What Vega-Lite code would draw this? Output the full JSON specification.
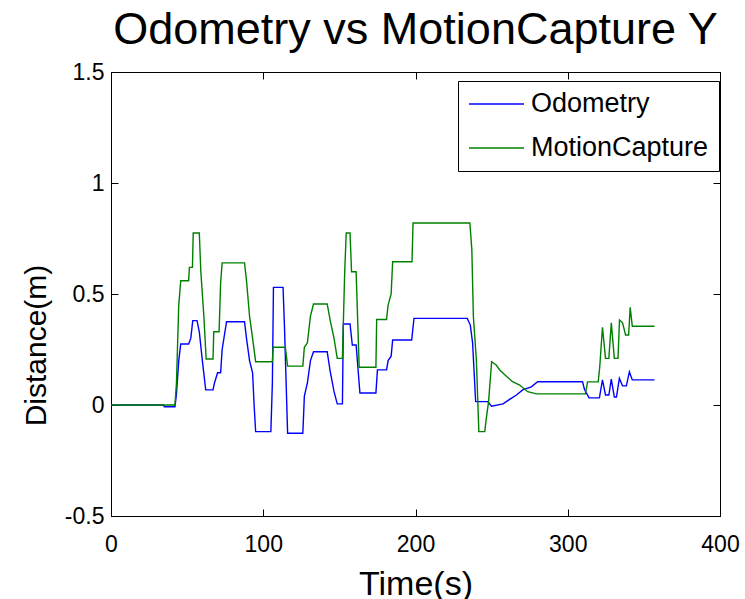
{
  "$schema": "https://vega.github.io/schema/vega-lite/v6.json",
  "width": 609,
  "height": 444,
  "autosize": {"type": "none"},
  "padding": {"left": 111, "top": 72, "right": 25, "bottom": 83},
  "background": "white",
  "title": {
    "text": "Odometry vs MotionCapture Y",
    "font": "Liberation Sans",
    "fontSize": 45,
    "fontWeight": "normal",
    "color": "black",
    "anchor": "middle",
    "frame": "group",
    "baseline": "alphabetic",
    "offset": 14,
    "dy": 42
  },
  "config": {
    "view": {"stroke": "black", "strokeWidth": 1},
    "axis": {
      "domainColor": "black",
      "domainWidth": 1,
      "tickColor": "black",
      "tickWidth": 1,
      "grid": false,
      "labelFont": "Liberation Sans",
      "labelColor": "black",
      "titleFont": "Liberation Sans",
      "titleColor": "black",
      "titleFontWeight": "normal"
    }
  },
  "data": {
    "values": [
      {"time": 0, "distance": 0, "series": "Odometry"},
      {"time": 34.5, "distance": 0, "series": "Odometry"},
      {"time": 35, "distance": -0.008, "series": "Odometry"},
      {"time": 42, "distance": -0.008, "series": "Odometry"},
      {"time": 43, "distance": 0.05, "series": "Odometry"},
      {"time": 44.5, "distance": 0.2, "series": "Odometry"},
      {"time": 45.8, "distance": 0.275, "series": "Odometry"},
      {"time": 51, "distance": 0.275, "series": "Odometry"},
      {"time": 52.4, "distance": 0.3, "series": "Odometry"},
      {"time": 53.7, "distance": 0.38, "series": "Odometry"},
      {"time": 56.5, "distance": 0.38, "series": "Odometry"},
      {"time": 58, "distance": 0.33, "series": "Odometry"},
      {"time": 60, "distance": 0.2, "series": "Odometry"},
      {"time": 62.2, "distance": 0.068, "series": "Odometry"},
      {"time": 67, "distance": 0.068, "series": "Odometry"},
      {"time": 68, "distance": 0.1, "series": "Odometry"},
      {"time": 70, "distance": 0.145, "series": "Odometry"},
      {"time": 72, "distance": 0.145, "series": "Odometry"},
      {"time": 73, "distance": 0.25, "series": "Odometry"},
      {"time": 75.9, "distance": 0.375, "series": "Odometry"},
      {"time": 87.7, "distance": 0.375, "series": "Odometry"},
      {"time": 89, "distance": 0.3, "series": "Odometry"},
      {"time": 91, "distance": 0.2, "series": "Odometry"},
      {"time": 93, "distance": 0.145, "series": "Odometry"},
      {"time": 94, "distance": 0.0, "series": "Odometry"},
      {"time": 95, "distance": -0.12, "series": "Odometry"},
      {"time": 105, "distance": -0.12, "series": "Odometry"},
      {"time": 106, "distance": 0.1, "series": "Odometry"},
      {"time": 106.7, "distance": 0.53, "series": "Odometry"},
      {"time": 113, "distance": 0.53, "series": "Odometry"},
      {"time": 114, "distance": 0.34, "series": "Odometry"},
      {"time": 116, "distance": -0.127, "series": "Odometry"},
      {"time": 126, "distance": -0.127, "series": "Odometry"},
      {"time": 127, "distance": 0.04, "series": "Odometry"},
      {"time": 129, "distance": 0.1, "series": "Odometry"},
      {"time": 131, "distance": 0.2, "series": "Odometry"},
      {"time": 133, "distance": 0.24, "series": "Odometry"},
      {"time": 142, "distance": 0.24, "series": "Odometry"},
      {"time": 144, "distance": 0.15, "series": "Odometry"},
      {"time": 146.5, "distance": 0.06, "series": "Odometry"},
      {"time": 148.6, "distance": 0.005, "series": "Odometry"},
      {"time": 152, "distance": 0.005, "series": "Odometry"},
      {"time": 152.6, "distance": 0.365, "series": "Odometry"},
      {"time": 157, "distance": 0.365, "series": "Odometry"},
      {"time": 158.5, "distance": 0.27, "series": "Odometry"},
      {"time": 161, "distance": 0.27, "series": "Odometry"},
      {"time": 163.5, "distance": 0.054, "series": "Odometry"},
      {"time": 174, "distance": 0.054, "series": "Odometry"},
      {"time": 175, "distance": 0.158, "series": "Odometry"},
      {"time": 181, "distance": 0.158, "series": "Odometry"},
      {"time": 182, "distance": 0.2, "series": "Odometry"},
      {"time": 184, "distance": 0.22, "series": "Odometry"},
      {"time": 185, "distance": 0.293, "series": "Odometry"},
      {"time": 197.5, "distance": 0.293, "series": "Odometry"},
      {"time": 199, "distance": 0.39, "series": "Odometry"},
      {"time": 234, "distance": 0.39, "series": "Odometry"},
      {"time": 236, "distance": 0.36, "series": "Odometry"},
      {"time": 237.5, "distance": 0.28, "series": "Odometry"},
      {"time": 239.5, "distance": 0.015, "series": "Odometry"},
      {"time": 247.5, "distance": 0.015, "series": "Odometry"},
      {"time": 249.9, "distance": -0.005, "series": "Odometry"},
      {"time": 257.5, "distance": 0.005, "series": "Odometry"},
      {"time": 260.6, "distance": 0.02, "series": "Odometry"},
      {"time": 266.3, "distance": 0.045, "series": "Odometry"},
      {"time": 270.4, "distance": 0.068, "series": "Odometry"},
      {"time": 276.1, "distance": 0.082, "series": "Odometry"},
      {"time": 280.2, "distance": 0.105, "series": "Odometry"},
      {"time": 309.7, "distance": 0.105, "series": "Odometry"},
      {"time": 311, "distance": 0.07, "series": "Odometry"},
      {"time": 314, "distance": 0.032, "series": "Odometry"},
      {"time": 320.8, "distance": 0.032, "series": "Odometry"},
      {"time": 322.8, "distance": 0.113, "series": "Odometry"},
      {"time": 324.8, "distance": 0.045, "series": "Odometry"},
      {"time": 327, "distance": 0.045, "series": "Odometry"},
      {"time": 328.6, "distance": 0.117, "series": "Odometry"},
      {"time": 330.6, "distance": 0.036, "series": "Odometry"},
      {"time": 332, "distance": 0.036, "series": "Odometry"},
      {"time": 333.9, "distance": 0.12, "series": "Odometry"},
      {"time": 336, "distance": 0.086, "series": "Odometry"},
      {"time": 338.5, "distance": 0.086, "series": "Odometry"},
      {"time": 340.5, "distance": 0.15, "series": "Odometry"},
      {"time": 342.4, "distance": 0.113, "series": "Odometry"},
      {"time": 357, "distance": 0.113, "series": "Odometry"},
      {"time": 0, "distance": 0, "series": "MotionCapture"},
      {"time": 42, "distance": 0, "series": "MotionCapture"},
      {"time": 43, "distance": 0.1, "series": "MotionCapture"},
      {"time": 44.5, "distance": 0.45, "series": "MotionCapture"},
      {"time": 45.8, "distance": 0.56, "series": "MotionCapture"},
      {"time": 51, "distance": 0.56, "series": "MotionCapture"},
      {"time": 51.5, "distance": 0.62, "series": "MotionCapture"},
      {"time": 53.5, "distance": 0.62, "series": "MotionCapture"},
      {"time": 54, "distance": 0.775, "series": "MotionCapture"},
      {"time": 58, "distance": 0.775, "series": "MotionCapture"},
      {"time": 59, "distance": 0.6, "series": "MotionCapture"},
      {"time": 61, "distance": 0.4, "series": "MotionCapture"},
      {"time": 62.5, "distance": 0.207, "series": "MotionCapture"},
      {"time": 67, "distance": 0.207, "series": "MotionCapture"},
      {"time": 67.5, "distance": 0.33, "series": "MotionCapture"},
      {"time": 71, "distance": 0.33, "series": "MotionCapture"},
      {"time": 72, "distance": 0.55, "series": "MotionCapture"},
      {"time": 73, "distance": 0.64, "series": "MotionCapture"},
      {"time": 87.7, "distance": 0.64, "series": "MotionCapture"},
      {"time": 89, "distance": 0.56, "series": "MotionCapture"},
      {"time": 91, "distance": 0.4, "series": "MotionCapture"},
      {"time": 93, "distance": 0.3, "series": "MotionCapture"},
      {"time": 95, "distance": 0.195, "series": "MotionCapture"},
      {"time": 106, "distance": 0.195, "series": "MotionCapture"},
      {"time": 106.5, "distance": 0.26, "series": "MotionCapture"},
      {"time": 114.5, "distance": 0.26, "series": "MotionCapture"},
      {"time": 116, "distance": 0.175, "series": "MotionCapture"},
      {"time": 126, "distance": 0.175, "series": "MotionCapture"},
      {"time": 127, "distance": 0.26, "series": "MotionCapture"},
      {"time": 129, "distance": 0.28, "series": "MotionCapture"},
      {"time": 131, "distance": 0.4, "series": "MotionCapture"},
      {"time": 133, "distance": 0.455, "series": "MotionCapture"},
      {"time": 142, "distance": 0.455, "series": "MotionCapture"},
      {"time": 144, "distance": 0.38, "series": "MotionCapture"},
      {"time": 146.5, "distance": 0.3, "series": "MotionCapture"},
      {"time": 148.6, "distance": 0.21, "series": "MotionCapture"},
      {"time": 152, "distance": 0.21, "series": "MotionCapture"},
      {"time": 153.5, "distance": 0.6, "series": "MotionCapture"},
      {"time": 154.5, "distance": 0.775, "series": "MotionCapture"},
      {"time": 157, "distance": 0.775, "series": "MotionCapture"},
      {"time": 158, "distance": 0.6, "series": "MotionCapture"},
      {"time": 161, "distance": 0.6, "series": "MotionCapture"},
      {"time": 163, "distance": 0.17, "series": "MotionCapture"},
      {"time": 174, "distance": 0.17, "series": "MotionCapture"},
      {"time": 174.5, "distance": 0.385, "series": "MotionCapture"},
      {"time": 181, "distance": 0.385, "series": "MotionCapture"},
      {"time": 182, "distance": 0.45, "series": "MotionCapture"},
      {"time": 184, "distance": 0.5, "series": "MotionCapture"},
      {"time": 185, "distance": 0.645, "series": "MotionCapture"},
      {"time": 197.7, "distance": 0.645, "series": "MotionCapture"},
      {"time": 198.4, "distance": 0.82, "series": "MotionCapture"},
      {"time": 235.7, "distance": 0.82, "series": "MotionCapture"},
      {"time": 237, "distance": 0.7, "series": "MotionCapture"},
      {"time": 238, "distance": 0.4, "series": "MotionCapture"},
      {"time": 240, "distance": 0.2, "series": "MotionCapture"},
      {"time": 241.6, "distance": -0.12, "series": "MotionCapture"},
      {"time": 245.5, "distance": -0.12, "series": "MotionCapture"},
      {"time": 246.5, "distance": -0.06, "series": "MotionCapture"},
      {"time": 248, "distance": 0.015, "series": "MotionCapture"},
      {"time": 250, "distance": 0.195, "series": "MotionCapture"},
      {"time": 253, "distance": 0.18, "series": "MotionCapture"},
      {"time": 255.3, "distance": 0.158, "series": "MotionCapture"},
      {"time": 259.7, "distance": 0.13, "series": "MotionCapture"},
      {"time": 263.8, "distance": 0.105, "series": "MotionCapture"},
      {"time": 268.4, "distance": 0.09, "series": "MotionCapture"},
      {"time": 273.7, "distance": 0.06, "series": "MotionCapture"},
      {"time": 279.5, "distance": 0.05, "series": "MotionCapture"},
      {"time": 311.6, "distance": 0.05, "series": "MotionCapture"},
      {"time": 313, "distance": 0.104, "series": "MotionCapture"},
      {"time": 320, "distance": 0.104, "series": "MotionCapture"},
      {"time": 321, "distance": 0.17, "series": "MotionCapture"},
      {"time": 322.8, "distance": 0.35, "series": "MotionCapture"},
      {"time": 324.8, "distance": 0.21, "series": "MotionCapture"},
      {"time": 327, "distance": 0.21, "series": "MotionCapture"},
      {"time": 328.6, "distance": 0.37, "series": "MotionCapture"},
      {"time": 330.6, "distance": 0.21, "series": "MotionCapture"},
      {"time": 333, "distance": 0.21, "series": "MotionCapture"},
      {"time": 334, "distance": 0.383, "series": "MotionCapture"},
      {"time": 336, "distance": 0.37, "series": "MotionCapture"},
      {"time": 338, "distance": 0.315, "series": "MotionCapture"},
      {"time": 340, "distance": 0.315, "series": "MotionCapture"},
      {"time": 341, "distance": 0.44, "series": "MotionCapture"},
      {"time": 342.4, "distance": 0.355, "series": "MotionCapture"},
      {"time": 357, "distance": 0.355, "series": "MotionCapture"}
    ]
  },
  "layer": [
    {
      "mark": {"type": "line", "strokeWidth": 1.4, "interpolate": "linear"},
      "encoding": {
        "x": {
          "field": "time",
          "type": "quantitative",
          "scale": {"domain": [0, 400], "nice": false, "zero": false},
          "axis": {
            "orient": "bottom",
            "values": [0, 100, 200, 300, 400],
            "tickSize": -7,
            "labelPadding": 24,
            "labelFontSize": 23,
            "labelFlush": false,
            "title": "Time(s)",
            "titleFontSize": 34,
            "titleBaseline": "alphabetic",
            "titleX": 304.5,
            "titleY": 78
          }
        },
        "y": {
          "field": "distance",
          "type": "quantitative",
          "scale": {"domain": [-0.5, 1.5], "nice": false, "zero": false},
          "axis": {
            "orient": "left",
            "values": [-0.5, 0, 0.5, 1, 1.5],
            "labelExpr": "'' + datum.value",
            "tickSize": -7,
            "labelPadding": 14,
            "labelFontSize": 23,
            "labelFlush": false,
            "title": "Distance(m)",
            "titleFontSize": 30,
            "titleBaseline": "alphabetic",
            "titleAngle": -90,
            "titleX": -66,
            "titleY": 273
          }
        },
        "color": {
          "field": "series",
          "type": "nominal",
          "sort": ["Odometry", "MotionCapture"],
          "scale": {"domain": ["Odometry", "MotionCapture"], "range": ["#0000ff", "#008000"]},
          "legend": {
            "orient": "none",
            "legendX": 347,
            "legendY": 9,
            "title": null,
            "direction": "vertical",
            "strokeColor": "black",
            "fillColor": "white",
            "padding": 10,
            "symbolType": "stroke",
            "symbolSize": 3025,
            "symbolStrokeWidth": 1.3,
            "clipHeight": 26,
            "rowPadding": 17,
            "labelOffset": 6,
            "labelFont": "Liberation Sans",
            "labelFontSize": 27,
            "labelColor": "black",
            "labelLimit": 400
          }
        }
      }
    },
    {
      "mark": {"type": "line", "opacity": 0},
      "encoding": {
        "x": {
          "field": "time",
          "type": "quantitative",
          "axis": {
            "orient": "top",
            "values": [0, 100, 200, 300, 400],
            "tickSize": -7,
            "labels": false,
            "domain": false,
            "title": null
          }
        },
        "y": {
          "field": "distance",
          "type": "quantitative",
          "axis": {
            "orient": "right",
            "values": [-0.5, 0, 0.5, 1, 1.5],
            "tickSize": -7,
            "labels": false,
            "domain": false,
            "title": null
          }
        },
        "detail": {"field": "series", "type": "nominal"}
      }
    }
  ],
  "resolve": {"axis": {"x": "independent", "y": "independent"}}
}
